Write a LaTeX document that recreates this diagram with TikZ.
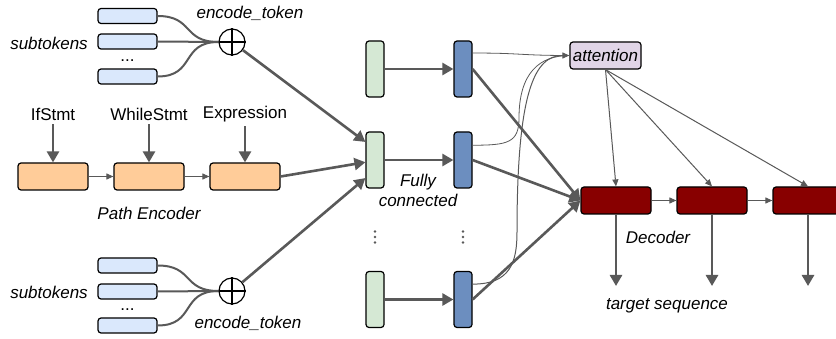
\documentclass[tikz,border=0pt]{standalone}
\usepackage{fontspec}
\setmainfont{Liberation Sans}
\usetikzlibrary{arrows.meta}
\definecolor{ln}{HTML}{595959}
\definecolor{subfill}{HTML}{DAE8FC}
\definecolor{pathfill}{HTML}{FFCC99}
\definecolor{fcfill}{HTML}{D5E8D4}
\definecolor{hidfill}{HTML}{6C8EBF}
\definecolor{attfill}{HTML}{E1D5E7}
\definecolor{decfill}{HTML}{880000}
\tikzset{
  box/.style={draw=black, line width=1.2pt, rounded corners=3pt, inner sep=0pt},
  subbox/.style={box, fill=subfill, minimum width=59pt, minimum height=15pt},
  pathbox/.style={box, fill=pathfill, minimum width=70pt, minimum height=27pt},
  fcbox/.style={box, fill=fcfill, minimum width=18pt, minimum height=56pt},
  hidbox/.style={box, fill=hidfill, minimum width=18pt, minimum height=56pt},
  attbox/.style={box, fill=attfill, minimum width=71pt, minimum height=27pt, font=\fontsize{17}{20}\selectfont\itshape},
  decbox/.style={box, fill=decfill, minimum width=70pt, minimum height=27pt},
  plus/.style={draw=black, line width=1.2pt, circle, minimum size=26pt, inner sep=0pt},
  lbl/.style={inner sep=0pt, font=\fontsize{17}{20}\selectfont},
  ilbl/.style={inner sep=0pt, font=\fontsize{17}{20}\selectfont\itshape},
  thick arrow/.style={draw=ln, line width=2.6pt, -{Triangle[length=11pt,width=12pt]}},
  thin arrow/.style={draw=ln, line width=1pt, -{Triangle[length=7pt,width=6pt]}},
  thin line/.style={draw=ln, line width=0.8pt},
  curve line/.style={draw=ln, line width=2pt},
  vdotline/.style={draw=ln, line width=2.6pt, line cap=round, dash pattern=on 0pt off 5.5pt},
}
\begin{document}
\begin{tikzpicture}[x=1pt,y=-1pt]
\clip (0,0) rectangle (836,339);
\fill[white] (0,0) rectangle (836,339);

% top subtokens
\node[subbox] (s1) at (127.5,16) {};
\node[subbox] (s2) at (127.5,41.5) {};
\node[subbox] (s3) at (127.5,76.5) {};
\node[lbl] (d1) at (127.5,61) {...};
\node[ilbl] (subt1) at (49,43) {subtokens};
\node[plus] (o1) at (232,42) {};
\draw[line width=1.2pt] (o1.north) -- (o1.south) (o1.west) -- (o1.east);
\node[ilbl] (enc1) at (250,13) {encode\_token};
\draw[curve line] (s1.east) to[out=0,in=180,looseness=1.4] (o1.west);
\draw[curve line] (s2.east) -- (o1.west);
\draw[curve line] (s3.east) to[out=0,in=180,looseness=1.4] (o1.west);

% bottom subtokens
\node[subbox] (s4) at (127.5,265.5) {};
\node[subbox] (s5) at (127.5,291.5) {};
\node[subbox] (s6) at (127.5,325.5) {};
\node[lbl] (d2) at (127.5,310) {...};
\node[ilbl] (subt2) at (49,292) {subtokens};
\node[plus] (o2) at (232,291) {};
\draw[line width=1.2pt] (o2.north) -- (o2.south) (o2.west) -- (o2.east);
\node[ilbl] (enc2) at (248,323) {encode\_token};
\draw[curve line] (s4.east) to[out=0,in=180,looseness=1.4] (o2.west);
\draw[curve line] (s5.east) -- (o2.west);
\draw[curve line] (s6.east) to[out=0,in=180,looseness=1.4] (o2.west);

% path encoder
\node[pathbox] (p1) at (53,176.5) {};
\node[pathbox] (p2) at (149,176.5) {};
\node[pathbox] (p3) at (245,176.5) {};
\node[lbl] (l1) at (53,114) {IfStmt};
\node[lbl] (l2) at (149,114) {WhileStmt};
\node[lbl] (l3) at (245,114) {Expression};
\node[ilbl] (pe) at (149,213) {Path Encoder};
\draw[thick arrow] (l1.south) ++(0,4) -- (p1.north);
\draw[thick arrow] (l2.south) ++(0,4) -- (p2.north);
\draw[thick arrow] (l3.south) ++(0,4) -- (p3.north);
\draw[thin arrow] (p1.east) -- (p2.west);
\draw[thin arrow] (p2.east) -- (p3.west);

% fully connected
\node[fcbox] (g1) at (375,69) {};
\node[fcbox] (g2) at (375,160) {};
\node[fcbox] (g3) at (375,299.5) {};
\node[hidbox] (b1) at (463,69) {};
\node[hidbox] (b2) at (463,160) {};
\node[hidbox] (b3) at (463,299.5) {};
\draw[vdotline] (375,231.5) -- (375,244);
\draw[vdotline] (463,231.5) -- (463,244);
\node[ilbl, align=center] (fc) at (418,190) {Fully\\connected};

\draw[thick arrow] (o1) -- (g2.118);
\draw[thick arrow] (p3.east) -- (g2.193);
\draw[thick arrow] (o2) -- (g2.242);
\draw[thick arrow] (g1.east) -- (b1.west);
\draw[thick arrow] (g2.east) -- (b2.west);
\draw[thick arrow] (g3.east) -- (b3.west);

% attention
\node[attbox] (att) at (605.5,55.5) {attention};
\draw[thin line] (b1.59) .. controls +(50,0) and +(-50,0) .. (att.west);
\draw[thin line] (b2.57) .. controls +(35,0) and +(0,25) .. (519,118)
   .. controls +(0,-45) and +(-30,0) .. (att.west);
\draw[thin arrow] (b3.58) .. controls +(38,0) and +(0,30) .. (517,232)
   .. controls +(0,-140) and +(-35,0) .. (att.west);

% decoder
\node[decbox] (c1) at (616,200.5) {};
\node[decbox] (c2) at (712,200.5) {};
\node[decbox] (c3) at (808,200.5) {};
\draw[thick arrow] (b1.east) -- (c1.west);
\draw[thick arrow] (b2.east) -- (c1.west);
\draw[thick arrow] (b3.east) -- (c1.west);
\draw[thin arrow] (c1.east) -- (c2.west);
\draw[thin arrow] (c2.east) -- (c3.west);
\draw[thin arrow] (att.south) -- (c1.north);
\draw[thin arrow] (att.south) -- (c2.north);
\draw[thin arrow] (att.south) -- (c3.north);

\coordinate (t1) at (616,286);
\coordinate (t2) at (712,286);
\coordinate (t3) at (808,286);
\draw[thick arrow] (c1.south) -- (t1);
\draw[thick arrow] (c2.south) -- (t2);
\draw[thick arrow] (c3.south) -- (t3);
\node[ilbl] (dec) at (658,237) {Decoder};
\node[ilbl] (ts) at (667,306) {target sequence};
\end{tikzpicture}
\end{document}
